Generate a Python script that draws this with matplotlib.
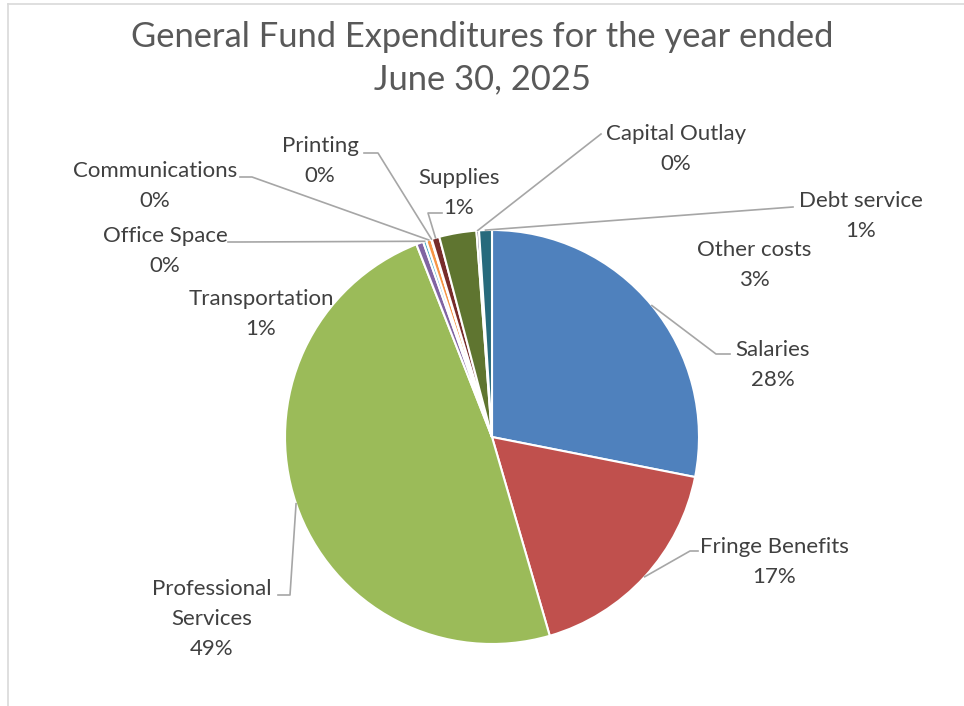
import numpy as np
import matplotlib.pyplot as plt
from matplotlib.lines import Line2D

# General fund expenditures, percent of total
categories = ['Salaries', 'Fringe Benefits', 'Professional\nServices', 'Transportation',
              'Office Space', 'Communications', 'Printing', 'Supplies', 'Other costs',
              'Capital Outlay', 'Debt service']
shares = [28.1, 17.4, 48.55, 0.55, 0.25, 0.4, 0.05, 0.6, 2.9, 0.2, 1.0]
colors = ['#4f81bd', '#c0504d', '#9bbb59', '#8064a2', '#4bacc6', '#f79646',
          '#2c4d75', '#772c2a', '#5f7530', '#4d3b62', '#276a7c']

W, H = 964, 706
cx, cy, r = 492, 437, 207

# label centre (px) and leader path from the label back towards the pie
label_pos = {
    'Salaries': (773, 365),
    'Fringe Benefits': (774, 562),
    'Professional\nServices': (212, 619),
    'Transportation': (261, 314),
    'Office Space': (165, 251),
    'Communications': (155, 186),
    'Printing': (320, 161),
    'Supplies': (459, 193),
    'Other costs': (754, 265),
    'Capital Outlay': (676, 149),
    'Debt service': (861, 216),
}
leaders = {
    'Salaries': [(730, 354), (716, 354)],
    'Fringe Benefits': [(698, 551), (690, 551)],
    'Professional\nServices': [(278, 595), (290, 595)],
    'Office Space': [(228, 242), (240, 242)],
    'Communications': [(240, 177), (252, 177)],
    'Printing': [(364, 153), (378, 153)],
    'Supplies': [(442, 213), (428, 213)],
    'Capital Outlay': [(601, 134)],
    'Debt service': [(793, 207)],
}


def fig_xy(px, py):
    return px / W, 1 - py / H


fig = plt.figure(figsize=(W / 100, H / 100), dpi=100)
fig.patch.set_facecolor('white')

ax = fig.add_axes([(cx - r) / W, (H - cy - r) / H, 2 * r / W, 2 * r / H])
wedges, _ = ax.pie(shares, colors=colors, startangle=90, counterclock=False,
                   wedgeprops=dict(edgecolor='white', linewidth=1.5))
ax.set_xlim(-1, 1)
ax.set_ylim(-1, 1)
ax.set_aspect('equal')
ax.axis('off')

# chart border (top and left edges visible)
fig.add_artist(Line2D([8 / W, 8 / W], [0, 1 - 4 / H], color='#d9d9d9', lw=1.2))
fig.add_artist(Line2D([8 / W, 1], [1 - 4 / H, 1 - 4 / H], color='#d9d9d9', lw=1.2))

fig.text(0.5, 1 - 37 / H, 'General Fund Expenditures for the year ended',
         ha='center', va='center', fontsize=24.8, color='#595959', family='Lato')
fig.text(0.5, 1 - 79 / H, 'June 30, 2025',
         ha='center', va='center', fontsize=24.8, color='#595959', family='Lato')

total = sum(shares)
cum = 0
for name, val in zip(categories, shares):
    mid = 90 - (cum + val / 2) / total * 360
    cum += val
    rim = (cx + r * np.cos(np.radians(mid)), cy - r * np.sin(np.radians(mid)))
    tx, ty = label_pos[name]
    fx, fy = fig_xy(tx, ty)
    fig.text(fx, fy, '%s\n%.0f%%' % (name, val), ha='center', va='center',
             fontsize=16, color='#404040', family='Lato', linespacing=1.62)
    if name in leaders:
        pts = leaders[name] + [rim]
        xs = [p[0] / W for p in pts]
        ys = [1 - p[1] / H for p in pts]
        fig.add_artist(Line2D(xs, ys, color='#a6a6a6', lw=1.2))

fig.savefig('out.png', dpi=100, facecolor='white')
